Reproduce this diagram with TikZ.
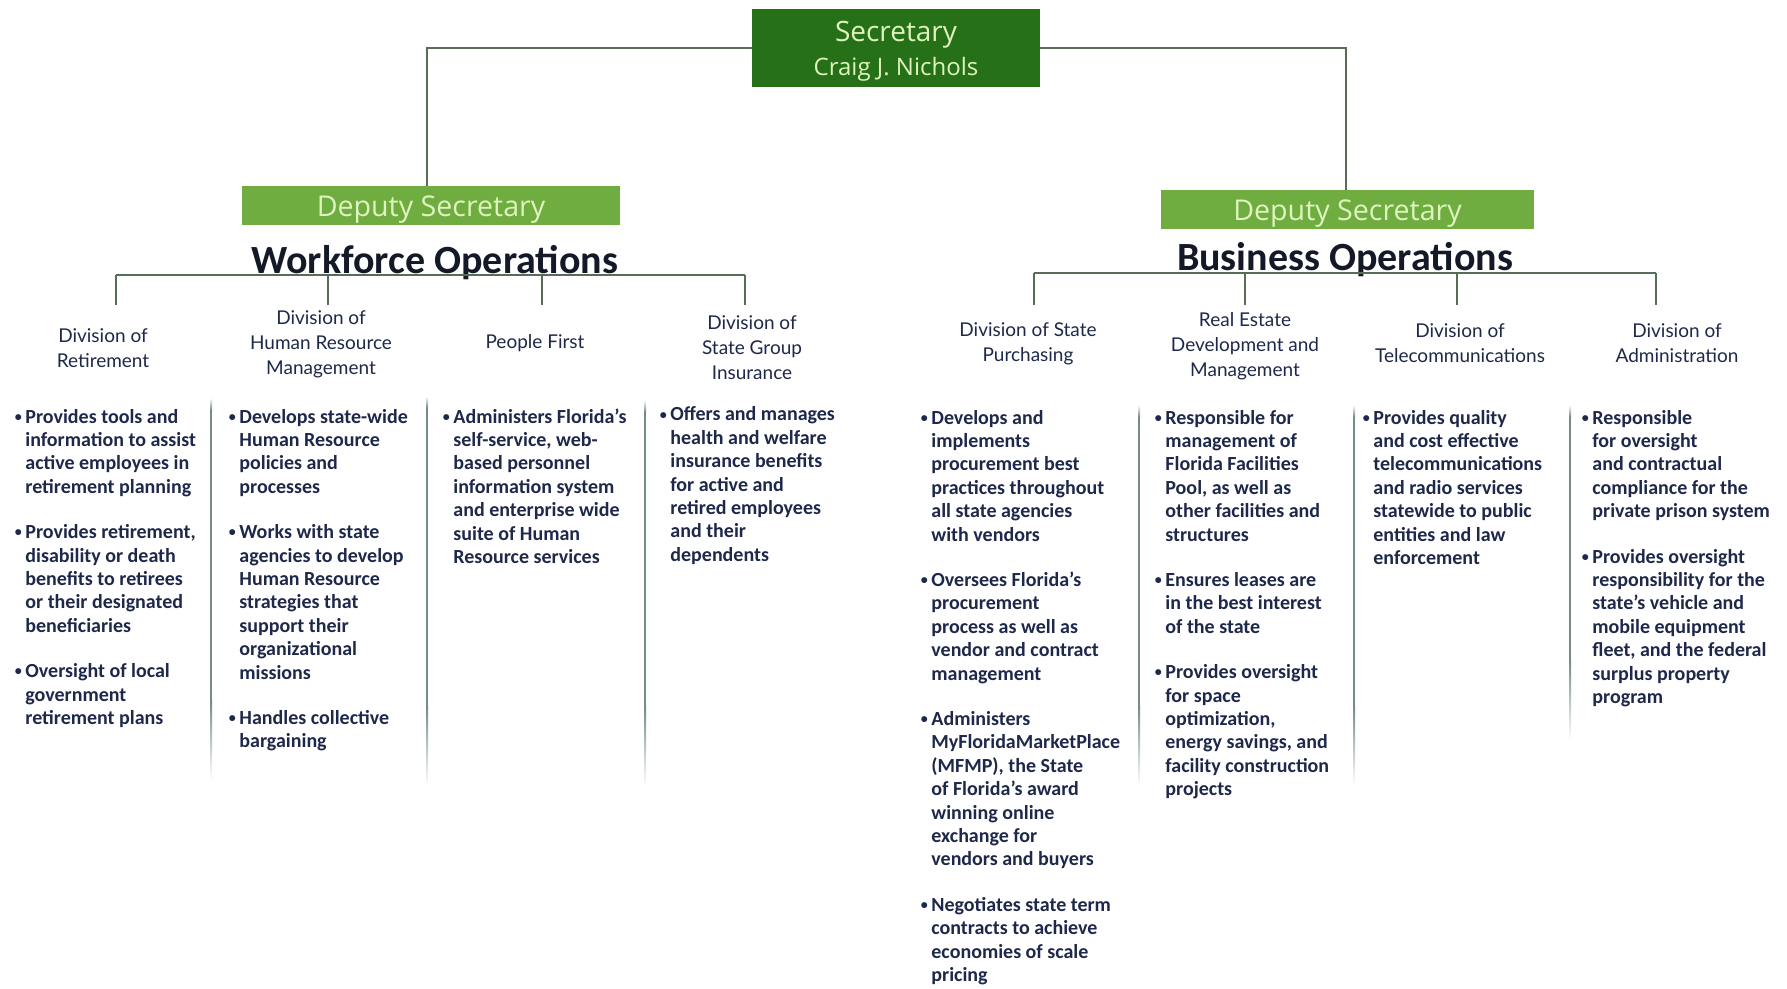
\documentclass[tikz,border=0pt]{standalone}
\usepackage{fontspec}
\setmainfont{Carlito}
\newfontfamily\boxfont{Open Sans}
\newfontfamily\divfont{Lato}

\definecolor{secgreen}{RGB}{38,112,24}
\definecolor{depgreen}{RGB}{112,173,64}
\definecolor{boxtext}{RGB}{222,243,190}
\definecolor{navy}{RGB}{30,40,75}
\definecolor{headc}{RGB}{20,25,40}
\definecolor{linkc}{RGB}{85,110,85}
\definecolor{sepc}{RGB}{115,140,135}

\newcommand{\bpt}{\llap{\raisebox{0.9pt}{\fontsize{7}{7}\selectfont\textbullet}\hspace{1.8pt}}}

\begin{document}
\begin{tikzpicture}[x=0.5pt, y=-0.5pt,
  secbox/.style={fill=secgreen, text=boxtext, minimum width=144pt, minimum height=39pt,
    inner sep=0pt, align=center, text depth=0pt, font=\boxfont\fontsize{14}{17}\selectfont},
  depbox/.style={fill=depgreen, text=boxtext, minimum height=19.5pt, inner sep=0pt,
    text depth=0pt, font=\boxfont\fontsize{14.3}{16}\selectfont},
  opstitle/.style={text=headc, inner sep=0pt, font=\fontsize{20}{24}\selectfont\bfseries},
  divtitle/.style={text=navy, align=center, inner sep=0pt, font=\divfont\fontsize{9.5}{12.5}\selectfont},
  duties/.style={text=navy, anchor=base west, inner sep=0pt, font=\fontsize{10}{11.7}\selectfont\bfseries},
  orgline/.style={draw=linkc, line width=1pt}]

\fill[white] (0,0) rectangle (1787,987);

% 顶部:部长
\node[secbox] (sec) at (896,48) {Secretary\\{\fontsize{12}{14}\selectfont Craig J. Nichols}};

% 左侧:Workforce Operations
\begin{scope}
\node[depbox, minimum width=189pt] (dwf) at (431,206) {Deputy Secretary};
\draw[orgline] (sec.west) -| ([xshift=-2pt]dwf.north);
\node[opstitle] (wfo) at (435,262.5) {Workforce Operations};

\foreach \x/\n in {116/ret,328/hrm,542/pf,745/sgi} {
  \coordinate (\n-up) at (\x,275);
  \coordinate (\n-down) at (\x,305);
  \draw[orgline] (\n-up) -- (\n-down);
}
\draw[orgline] (ret-up) -- (sgi-up);

\node[divtitle] (ret) at (103,348.5) {Division of\\Retirement};
\node[divtitle] (hrm) at (321,344.5) {Division of\\Human Resource\\Management};
\node[divtitle] (pf) at (535,343) {People First};
\node[divtitle] (sgi) at (752,347.5) {Division of\\State Group\\Insurance};

\node[duties] (ret-txt) at (25,423) {\begin{tabular}[t]{@{}l@{}}
\bpt Provides tools and\\ information to assist\\ active employees in\\ retirement planning\\[11pt]
\bpt Provides retirement,\\ disability or death\\ benefits to retirees\\ or their designated\\ beneficiaries\\[11pt]
\bpt Oversight of local\\ government\\ retirement plans
\end{tabular}};
\node[duties] (hrm-txt) at (239,423) {\begin{tabular}[t]{@{}l@{}}
\bpt Develops state-wide\\ Human Resource\\ policies and\\ processes\\[11pt]
\bpt Works with state\\ agencies to develop\\ Human Resource\\ strategies that\\ support their\\ organizational\\ missions\\[11pt]
\bpt Handles collective\\ bargaining
\end{tabular}};
\node[duties] (pf-txt) at (453,423) {\begin{tabular}[t]{@{}l@{}}
\bpt Administers Florida’s\\ self-service, web-\\ based personnel\\ information system\\ and enterprise wide\\ suite of Human\\ Resource services
\end{tabular}};
\node[duties] (sgi-txt) at (670,421) {\begin{tabular}[t]{@{}l@{}}
\bpt Offers and manages\\ health and welfare\\ insurance benefits\\ for active and\\ retired employees\\ and their\\ dependents
\end{tabular}};
\end{scope}

% 右侧:Business Operations
\begin{scope}
\node[depbox, minimum width=186.5pt] (dbo) at (1347.5,210) {Deputy Secretary};
\draw[orgline] (sec.east) -| ([xshift=-1pt]dbo.north);
\node[opstitle] (bo) at (1345,259.5) {Business Operations};

\foreach \x/\n in {1034/sp,1245/red,1457/tel,1656/adm} {
  \coordinate (\n-up) at (\x,273);
  \coordinate (\n-down) at (\x,305);
  \draw[orgline] (\n-up) -- (\n-down);
}
\draw[orgline] (sp-up) -- (adm-up);

\node[divtitle] (sp) at (1028,344) {Division of State\\Purchasing};
\node[divtitle] (red) at (1245,346.5) {Real Estate\\Development and\\Management};
\node[divtitle] (tel) at (1460,343) {Division of\\Telecommunications};
\node[divtitle] (adm) at (1677,343) {Division of\\Administration};

\node[duties] (sp-txt) at (931,424) {\begin{tabular}[t]{@{}l@{}}
\bpt Develops and\\ implements\\ procurement best\\ practices throughout\\ all state agencies\\ with vendors\\[11pt]
\bpt Oversees Florida’s\\ procurement\\ process as well as\\ vendor and contract\\ management\\[11pt]
\bpt Administers\\ MyFloridaMarketPlace\\ (MFMP), the State\\ of Florida’s award\\ winning online\\ exchange for\\ vendors and buyers\\[11pt]
\bpt Negotiates state term\\ contracts to achieve\\ economies of scale\\ pricing
\end{tabular}};
\node[duties] (red-txt) at (1165,424) {\begin{tabular}[t]{@{}l@{}}
\bpt Responsible for\\ management of\\ Florida Facilities\\ Pool, as well as\\ other facilities and\\ structures\\[11pt]
\bpt Ensures leases are\\ in the best interest\\ of the state\\[11pt]
\bpt Provides oversight\\ for space\\ optimization,\\ energy savings, and\\ facility construction\\ projects
\end{tabular}};
\node[duties] (tel-txt) at (1373,424) {\begin{tabular}[t]{@{}l@{}}
\bpt Provides quality\\ and cost effective\\ telecommunications\\ and radio services\\ statewide to public\\ entities and law\\ enforcement
\end{tabular}};
\node[duties] (adm-txt) at (1592,424) {\begin{tabular}[t]{@{}l@{}}
\bpt Responsible\\ for oversight\\ and contractual\\ compliance for the\\ private prison system\\[11pt]
\bpt Provides oversight\\ responsibility for the\\ state’s vehicle and\\ mobile equipment\\ fleet, and the federal\\ surplus property\\ program
\end{tabular}};
\end{scope}

% 栏间分隔线
\foreach \x/\a/\b in {211/398/700,427/396/706,645/400/706,1139/405/706,1354/405/706,1570/405/660} {
  \shade[top color=white, bottom color=sepc] (\x-1,\a) rectangle (\x+1,\a+12);
  \fill[sepc] (\x-1,\a+12) rectangle (\x+1,\b);
  \shade[top color=sepc, bottom color=white] (\x-1,\b) rectangle (\x+1,\b+80);
}
\end{tikzpicture}
\end{document}
